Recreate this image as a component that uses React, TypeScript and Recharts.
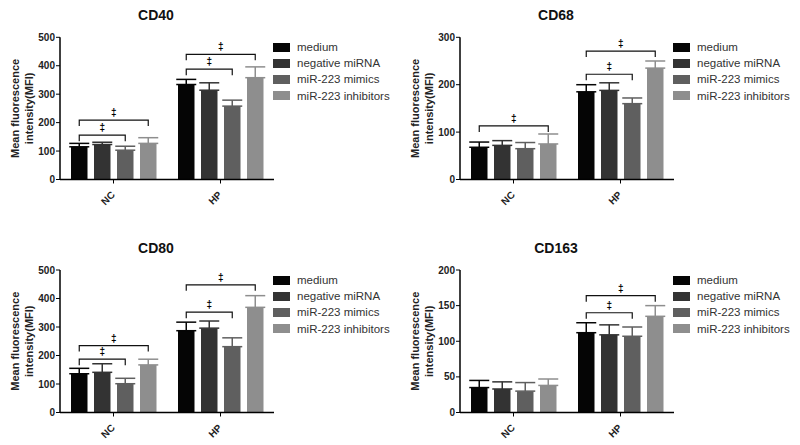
import React from 'react';
import { BarChart, Bar, XAxis, YAxis, ErrorBar, Label } from 'recharts';

const GROUPS = ['NC', 'HP'];
const SERIES = ['medium', 'negative miRNA', 'miR-223 mimics', 'miR-223 inhibitors'];
const COLORS = ['#050505', '#333333', '#5f5f5f', '#8e8e8e'];

// CD40
const CD40_NC = [115, 123, 103, 127];
const CD40_NC_ERR = [12, 8, 14, 20];
const CD40_HP = [334, 314, 258, 358];
const CD40_HP_ERR = [18, 26, 21, 38];
const CD40_TICKS = [0, 100, 200, 300, 400, 500];
// CD68
const CD68_NC = [68, 72, 65, 75];
const CD68_NC_ERR = [11, 10, 13, 21];
const CD68_HP = [185, 188, 160, 235];
const CD68_HP_ERR = [15, 16, 12, 15];
const CD68_TICKS = [0, 100, 200, 300];
// CD80
const CD80_NC = [136, 141, 101, 167];
const CD80_NC_ERR = [19, 30, 19, 20];
const CD80_HP = [287, 296, 231, 369];
const CD80_HP_ERR = [30, 25, 31, 41];
const CD80_TICKS = [0, 100, 200, 300, 400, 500];
// CD163
const CD163_NC = [35, 33, 30, 38];
const CD163_NC_ERR = [10, 10, 12, 9];
const CD163_HP = [112, 109, 107, 135];
const CD163_HP_ERR = [14, 14, 13, 15];
const CD163_TICKS = [0, 50, 100, 150, 200];

// significance brackets: from "medium" bar to bar index `to`, at value `y`
const CD40_BRACKETS = { NC: [{ to: 2, y: 156 }, { to: 3, y: 209 }], HP: [{ to: 2, y: 388 }, { to: 3, y: 440 }] };
const CD68_BRACKETS = { NC: [{ to: 3, y: 113 }], HP: [{ to: 2, y: 222 }, { to: 3, y: 271 }] };
const CD80_BRACKETS = { NC: [{ to: 2, y: 187 }, { to: 3, y: 235 }], HP: [{ to: 2, y: 352 }, { to: 3, y: 448 }] };
const CD163_BRACKETS = { NC: [], HP: [{ to: 2, y: 140 }, { to: 3, y: 164 }] };

const FONT = "'Liberation Sans', Arial, Helvetica, sans-serif";
const BAR_SIZE = 16.5;
const BAR_GAP = 6.5;

function buildData(nc: number[], ncErr: number[], hp: number[], hpErr: number[]) {
  const rows = [
    [nc, ncErr],
    [hp, hpErr],
  ];
  return GROUPS.map((g, gi) => {
    const row: any = { group: g };
    SERIES.forEach((_, si) => {
      row['s' + si] = rows[gi][0][si];
      row['e' + si] = [0, rows[gi][1][si]];
    });
    return row;
  });
}

const PANELS = [
  { title: 'CD40', left: 0, top: 0, height: 220, mTop: 37.3, mBottom: 10.5, ticks: CD40_TICKS, data: buildData(CD40_NC, CD40_NC_ERR, CD40_HP, CD40_HP_ERR), brackets: CD40_BRACKETS, titleY: 15, legendY: 47 },
  { title: 'CD68', left: 400, top: 0, height: 220, mTop: 37.3, mBottom: 10.5, ticks: CD68_TICKS, data: buildData(CD68_NC, CD68_NC_ERR, CD68_HP, CD68_HP_ERR), brackets: CD68_BRACKETS, titleY: 15, legendY: 47 },
  { title: 'CD80', left: 0, top: 220, height: 225, mTop: 50, mBottom: 2.5, ticks: CD80_TICKS, data: buildData(CD80_NC, CD80_NC_ERR, CD80_HP, CD80_HP_ERR), brackets: CD80_BRACKETS, titleY: 28, legendY: 60 },
  { title: 'CD163', left: 400, top: 220, height: 225, mTop: 50, mBottom: 2.5, ticks: CD163_TICKS, data: buildData(CD163_NC, CD163_NC_ERR, CD163_HP, CD163_HP_ERR), brackets: CD163_BRACKETS, titleY: 28, legendY: 60 },
];

const renderXTick = (props: any) => {
  const { x, y, payload } = props;
  const ax = x + 2;
  const ay = y + 10;
  return (
    <text
      key={payload.value}
      x={ax}
      y={ay}
      textAnchor="end"
      transform={`rotate(-45 ${ax} ${ay})`}
      fontSize={10}
      fontWeight="bold"
      fill="#222"
      fontFamily={FONT}
    >
      {payload.value}
    </text>
  );
};

const YLabel = (props: any) => {
  const vb = props.viewBox || {};
  const cy = (vb.y ?? 37) + (vb.height ?? 142) / 2;
  return (
    <g fontFamily={FONT} fontSize={11} fontWeight="bold" fill="#222">
      <text transform={`translate(15,${cy}) rotate(-90)`} textAnchor="middle" dominantBaseline="central">Mean fluorescence</text>
      <text transform={`translate(28.5,${cy}) rotate(-90)`} textAnchor="middle" dominantBaseline="central">intensity(MFI)</text>
    </g>
  );
};

function makeShape(brackets: any) {
  return (props: any) => {
    const { x, y, width, height, fill, payload } = props;
    const value = payload.s0;
    const list = (brackets[payload.group] || []) as { to: number; y: number }[];
    const scale = value ? height / value : 0;
    const base = y + height;
    const xl = x + width / 2;
    return (
      <g>
        <rect x={x} y={y} width={width} height={height} fill={fill} />
        {list.map((b, i) => {
          const xr = xl + b.to * (width + BAR_GAP);
          const yb = base - b.y * scale;
          return (
            <g key={i}>
              <path d={`M${xl},${yb + 6}L${xl},${yb}L${xr},${yb}L${xr},${yb + 6}`} stroke="#111" strokeWidth={1.2} fill="none" />
              <text x={(xl + xr) / 2} y={yb - 4} textAnchor="middle" fontSize={10} fontWeight="bold" fill="#000" fontFamily={FONT}>‡</text>
            </g>
          );
        })}
      </g>
    );
  };
}

function Panel({ p }: { p: any }) {
  const max = p.ticks[p.ticks.length - 1];
  return (
    <div style={{ position: 'absolute', left: p.left, top: p.top, width: 400, height: p.height }}>
      <div style={{ position: 'absolute', left: 106, top: p.titleY - 9, width: 100, textAlign: 'center', fontFamily: FONT, fontWeight: 'bold', fontSize: 14, lineHeight: '18px', color: '#111' }}>
        {p.title}
      </div>
      <BarChart width={400} height={p.height} data={p.data} margin={{ top: p.mTop, right: 126, bottom: p.mBottom, left: 0 }} barSize={BAR_SIZE} barGap={BAR_GAP}>
        <XAxis
          dataKey="group"
          height={30}
          axisLine={{ stroke: '#000', strokeWidth: 1.5 }}
          tickLine={{ stroke: '#000' }}
          tickSize={4}
          tick={renderXTick}
          interval={0}
        />
        <YAxis width={60} domain={[0, max]} ticks={p.ticks} interval={0} tickSize={4} tickMargin={1} axisLine={{ stroke: '#000', strokeWidth: 1.5 }} tickLine={{ stroke: '#000' }} tick={{ fontSize: 10, fontWeight: 'bold', fill: '#222', fontFamily: FONT }} allowDataOverflow>
          <Label content={<YLabel />} />
        </YAxis>
        {SERIES.map((name, i) => (
          <Bar key={name} dataKey={'s' + i} name={name} fill={COLORS[i]} isAnimationActive={false} shape={i === 0 ? makeShape(p.brackets) : undefined}>
            <ErrorBar dataKey={'e' + i} width={10} stroke={COLORS[i]} strokeWidth={1.5} direction="y" isAnimationActive={false} />
          </Bar>
        ))}
      </BarChart>
      <div style={{ position: 'absolute', left: 273, top: 0, width: 127, height: 120 }}>
        {SERIES.map((name, i) => (
          <div key={name} style={{ position: 'absolute', left: 0, top: p.legendY + i * 16.2 - 8, height: 16, display: 'flex', alignItems: 'center' }}>
            <div style={{ width: 17, height: 9, background: COLORS[i] }} />
            <span style={{ marginLeft: 7, fontFamily: FONT, fontSize: 11.5, color: '#333', whiteSpace: 'nowrap' }}>{name}</span>
          </div>
        ))}
      </div>
    </div>
  );
}

export default function App() {
  return (
    <div style={{ position: 'absolute', left: 0, top: 0, width: 800, height: 445, background: '#fff' }}>
      {PANELS.map((p) => (
        <Panel key={p.title} p={p} />
      ))}
    </div>
  );
}
